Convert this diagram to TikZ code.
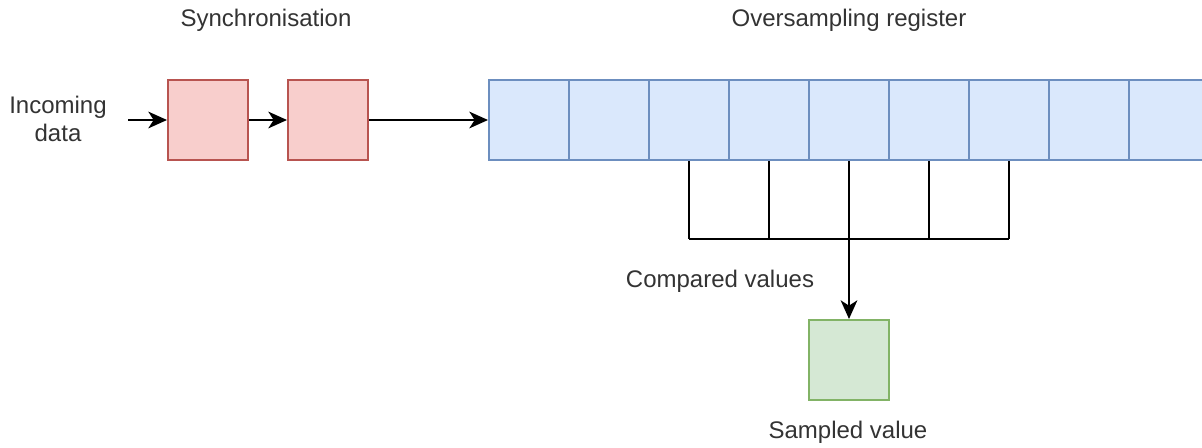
\documentclass[tikz,border=0pt]{standalone}
\usepackage{fontspec}
\setmainfont{Liberation Sans}
\usetikzlibrary{arrows.meta}
\definecolor{syncfill}{HTML}{F8CECC}
\definecolor{syncline}{HTML}{B85450}
\definecolor{regfill}{HTML}{DAE8FC}
\definecolor{regline}{HTML}{6C8EBF}
\definecolor{outfill}{HTML}{D5E8D4}
\definecolor{outline}{HTML}{82B366}
\definecolor{labeltext}{HTML}{333333}
\begin{document}
\begin{tikzpicture}[x=0.75pt,y=-0.75pt,
  cell/.style={draw, line width=1.5pt, minimum size=60pt, inner sep=0pt},
  syncbox/.style={cell, draw=syncline, fill=syncfill},
  regbox/.style={cell, draw=regline, fill=regfill},
  outbox/.style={cell, draw=outline, fill=outfill},
  lbl/.style={font=\fontsize{18}{21}\selectfont, text=labeltext, inner sep=0pt, align=center},
  wire/.style={line width=1.6pt, black},
  flow/.style={wire, -{Stealth[length=14pt,width=12.5pt,inset=4pt]}}
]
\useasboundingbox (0,0) rectangle (1202,447);

% labels
\node[lbl] (tsync) at (266,20) {Synchronisation};
\node[lbl] (treg) at (849,20) {Oversampling register};
\node[lbl] (tin) at (58,119) {Incoming\\data};
\node[lbl] (tcmp) at (720,281) {Compared values};
\node[lbl] (tout) at (848,432) {Sampled value};

% synchronisation flip-flops
\node[syncbox] (s1) at (208,120) {};
\node[syncbox] (s2) at (328,120) {};

% oversampling register cells
\foreach \i in {0,...,8}
  \node[regbox] (c\i) at ({529+80*\i},120) {};

% sampled output
\node[outbox] (out) at (849,360) {};

% data path
\coordinate (inp) at (128,120);
\draw[flow] (inp) -- (s1.west);
\draw[flow] (s1.east) -- (s2.west);
\draw[flow] (s2.east) -- (c0.west);

% taps of the compared cells
\coordinate (bar) at (0,239);
\foreach \i in {2,3,5,6}
  \draw[wire] (c\i.south) -- (c\i.south |- bar);
\draw[wire] (c2.south |- bar) -- (c6.south |- bar);
\draw[flow] (c4.south) -- (out.north);
\end{tikzpicture}
\end{document}
